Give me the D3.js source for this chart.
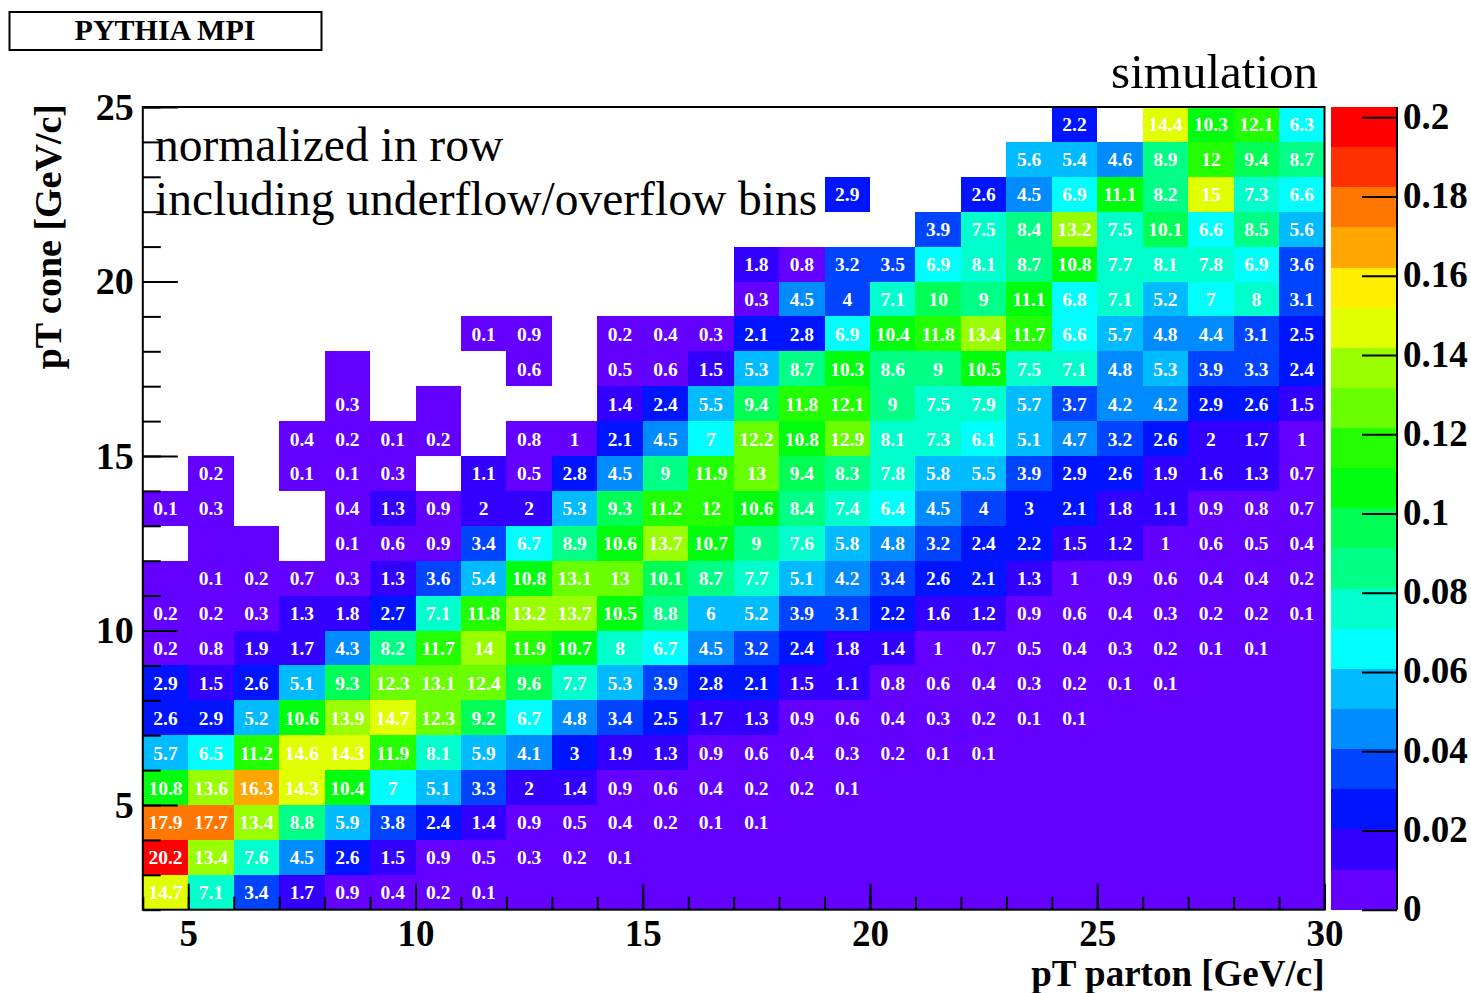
<!DOCTYPE html>
<html><head><meta charset="utf-8">
<script src="https://cdn.jsdelivr.net/npm/d3@7"></script>
<style>body{margin:0;background:#fff;} svg{display:block;}</style>
</head><body>
<script>
// ---------------- data ----------------
const xBinLow = 4, xBinHigh = 30;            // pT parton bins, 1 GeV/c wide
const yBinLow = 2, yBinHigh = 25;            // pT cone bins, 1 GeV/c wide
const xTickValues = [5, 10, 15, 20, 25, 30];
const yTickValues = [5, 10, 15, 20, 25];
const zTickValues = [0, 0.02, 0.04, 0.06, 0.08, 0.1, 0.12, 0.14, 0.16, 0.18, 0.2];
const zMax = 0.2026;
const nContours = 20;
const titleText = "PYTHIA MPI";
const noteLines = ["normalized in row", "including underflow/overflow bins"];
const tagText = "simulation";
const xTitle = "pT parton [GeV/c]";
const yTitle = "pT cone [GeV/c]";

// cell contents in percent, one row per pT-cone bin (bottom row first);
// null = empty (white) bin, 0 = filled bin with negligible content
const _ = null;
const cellPercent = [
  [14.7,7.1,3.4,1.7,0.9,0.4,0.2,0.1,0,0,0,0,0,0,0,0,0,0,0,0,0,0,0,0,0,0],
  [20.2,13.4,7.6,4.5,2.6,1.5,0.9,0.5,0.3,0.2,0.1,0,0,0,0,0,0,0,0,0,0,0,0,0,0,0],
  [17.9,17.7,13.4,8.8,5.9,3.8,2.4,1.4,0.9,0.5,0.4,0.2,0.1,0.1,0,0,0,0,0,0,0,0,0,0,0,0],
  [10.8,13.6,16.3,14.3,10.4,7,5.1,3.3,2,1.4,0.9,0.6,0.4,0.2,0.2,0.1,0,0,0,0,0,0,0,0,0,0],
  [5.7,6.5,11.2,14.6,14.3,11.9,8.1,5.9,4.1,3,1.9,1.3,0.9,0.6,0.4,0.3,0.2,0.1,0.1,0,0,0,0,0,0,0],
  [2.6,2.9,5.2,10.6,13.9,14.7,12.3,9.2,6.7,4.8,3.4,2.5,1.7,1.3,0.9,0.6,0.4,0.3,0.2,0.1,0.1,0,0,0,0,0],
  [2.9,1.5,2.6,5.1,9.3,12.3,13.1,12.4,9.6,7.7,5.3,3.9,2.8,2.1,1.5,1.1,0.8,0.6,0.4,0.3,0.2,0.1,0.1,0,0,0],
  [0.2,0.8,1.9,1.7,4.3,8.2,11.7,14,11.9,10.7,8,6.7,4.5,3.2,2.4,1.8,1.4,1,0.7,0.5,0.4,0.3,0.2,0.1,0.1,0],
  [0.2,0.2,0.3,1.3,1.8,2.7,7.1,11.8,13.2,13.7,10.5,8.8,6,5.2,3.9,3.1,2.2,1.6,1.2,0.9,0.6,0.4,0.3,0.2,0.2,0.1],
  [0,0.1,0.2,0.7,0.3,1.3,3.6,5.4,10.8,13.1,13,10.1,8.7,7.7,5.1,4.2,3.4,2.6,2.1,1.3,1,0.9,0.6,0.4,0.4,0.2],
  [_,0,0,_,0.1,0.6,0.9,3.4,6.7,8.9,10.6,13.7,10.7,9,7.6,5.8,4.8,3.2,2.4,2.2,1.5,1.2,1,0.6,0.5,0.4],
  [0.1,0.3,_,_,0.4,1.3,0.9,2,2,5.3,9.3,11.2,12,10.6,8.4,7.4,6.4,4.5,4,3,2.1,1.8,1.1,0.9,0.8,0.7],
  [_,0.2,_,0.1,0.1,0.3,_,1.1,0.5,2.8,4.5,9,11.9,13,9.4,8.3,7.8,5.8,5.5,3.9,2.9,2.6,1.9,1.6,1.3,0.7],
  [_,_,_,0.4,0.2,0.1,0.2,_,0.8,1,2.1,4.5,7,12.2,10.8,12.9,8.1,7.3,6.1,5.1,4.7,3.2,2.6,2,1.7,1],
  [_,_,_,_,0.3,_,0,_,_,_,1.4,2.4,5.5,9.4,11.8,12.1,9,7.5,7.9,5.7,3.7,4.2,4.2,2.9,2.6,1.5],
  [_,_,_,_,0,_,_,_,0.6,_,0.5,0.6,1.5,5.3,8.7,10.3,8.6,9,10.5,7.5,7.1,4.8,5.3,3.9,3.3,2.4],
  [_,_,_,_,_,_,_,0.1,0.9,_,0.2,0.4,0.3,2.1,2.8,6.9,10.4,11.8,13.4,11.7,6.6,5.7,4.8,4.4,3.1,2.5],
  [_,_,_,_,_,_,_,_,_,_,_,_,_,0.3,4.5,4,7.1,10,9,11.1,6.8,7.1,5.2,7,8,3.1],
  [_,_,_,_,_,_,_,_,_,_,_,_,_,1.8,0.8,3.2,3.5,6.9,8.1,8.7,10.8,7.7,8.1,7.8,6.9,3.6],
  [_,_,_,_,_,_,_,_,_,_,_,_,_,_,_,_,_,3.9,7.5,8.4,13.2,7.5,10.1,6.6,8.5,5.6],
  [_,_,_,_,_,_,_,_,_,_,_,_,_,_,_,2.9,_,_,2.6,4.5,6.9,11.1,8.2,15,7.3,6.6],
  [_,_,_,_,_,_,_,_,_,_,_,_,_,_,_,_,_,_,_,5.6,5.4,4.6,8.9,12,9.4,8.7],
  [_,_,_,_,_,_,_,_,_,_,_,_,_,_,_,_,_,_,_,_,2.2,_,14.4,10.3,12.1,6.3]
];

// ---------------- drawing ----------------
const W = 1471, H = 993;
const plot = {left: 142.8, right: 1324.5, top: 107, bottom: 909.7};
const bar = {left: 1331, right: 1397};
const serif = "'Liberation Serif','Times New Roman',serif";

// ROOT "pretty palette" (violet -> red), 50 colours, sampled for 20 contours
const palette50 = d3.range(50).map(i => d3.hsl(280 - (i + 1) * 5.6, 1, 0.5).formatHex());
const contourColors = d3.range(nContours).map(j => palette50[Math.floor((j + 0.99) * 50 / nContours)]);

const x = d3.scaleLinear().domain([xBinLow, xBinHigh]).range([plot.left, plot.right]);
const y = d3.scaleLinear().domain([yBinLow, yBinHigh]).range([plot.bottom, plot.top]);
const z = d3.scaleLinear().domain([0, zMax]).range([plot.bottom, plot.top]);
const color = d3.scaleQuantize().domain([0, zMax]).range(contourColors);
const fmt = v => d3.format(".1f")(v).replace(/\.0$/, "");

const svg = d3.select("body").append("svg").attr("width", W).attr("height", H)
  .style("font-family", serif);
svg.append("rect").attr("width", W).attr("height", H).attr("fill", "#fff");

const cells = cellPercent.flatMap((row, r) => row.map((v, c) => ({c, r, v})))
  .filter(d => d.v !== null);

const gCells = svg.append("g").attr("shape-rendering", "crispEdges");
gCells.selectAll("rect").data(cells).join("rect")
  .attr("x", d => x(xBinLow + d.c))
  .attr("y", d => y(yBinLow + d.r + 1))
  .attr("width", d => x(xBinLow + d.c + 1) - x(xBinLow + d.c))
  .attr("height", d => y(yBinLow + d.r) - y(yBinLow + d.r + 1))
  .attr("fill", d => color(Math.min(d.v / 100, zMax * 0.9999)));

svg.append("g").selectAll("text").data(cells.filter(d => d.v > 0)).join("text")
  .attr("x", d => x(xBinLow + d.c + 0.5))
  .attr("y", d => y(yBinLow + d.r + 0.5) + 7)
  .attr("text-anchor", "middle")
  .attr("font-size", 19.5).attr("font-weight", "bold").attr("fill", "#fff")
  .text(d => fmt(d.v));

// notes inside the plot
svg.append("g").selectAll("text").data(noteLines).join("text")
  .attr("x", 155).attr("y", (d, i) => 161 + i * 54)
  .attr("font-size", 47.5).attr("fill", "#000").text(d => d);

// frame
svg.append("rect").attr("x", plot.left).attr("y", plot.top)
  .attr("width", plot.right - plot.left).attr("height", plot.bottom - plot.top)
  .attr("fill", "none").attr("stroke", "#000").attr("stroke-width", 2);

// x axis ticks
const xMinor = d3.range(xBinLow, xBinHigh + 1);
svg.append("g").attr("transform", `translate(0,${plot.bottom})`)
  .call(d3.axisBottom(x).tickValues(xMinor).tickSize(-13).tickFormat(""))
  .call(g => g.select(".domain").remove())
  .call(g => g.selectAll("line").attr("stroke-width", 2));
const gx = svg.append("g").attr("transform", `translate(0,${plot.bottom})`)
  .call(d3.axisBottom(x).tickValues(xTickValues).tickSize(-26).tickFormat(d3.format("d")))
  .call(g => g.select(".domain").remove())
  .call(g => g.selectAll("line").attr("stroke-width", 2));
gx.selectAll("text").attr("y", 36).attr("dy", null)
  .attr("font-size", 37).attr("font-weight", "bold").attr("font-family", serif).attr("fill", "#000");

// y axis ticks
const yMinor = d3.range(yBinLow, yBinHigh + 1);
svg.append("g").attr("transform", `translate(${plot.left},0)`)
  .call(d3.axisLeft(y).tickValues(yMinor).tickSize(-18).tickFormat(""))
  .call(g => g.select(".domain").remove())
  .call(g => g.selectAll("line").attr("stroke-width", 2));
const gy = svg.append("g").attr("transform", `translate(${plot.left},0)`)
  .call(d3.axisLeft(y).tickValues(yTickValues).tickSize(-35).tickFormat(d3.format("d")))
  .call(g => g.select(".domain").remove())
  .call(g => g.selectAll("line").attr("stroke-width", 2));
gy.selectAll("text").attr("x", -9).attr("dy", null).attr("y", 12)
  .attr("font-size", 38).attr("font-weight", "bold").attr("font-family", serif).attr("fill", "#000");

// axis titles
svg.append("text").attr("x", plot.right).attr("y", 986).attr("text-anchor", "end")
  .attr("font-size", 37).attr("font-weight", "bold").text(xTitle);
svg.append("text").attr("transform", `translate(61,${plot.top - 3}) rotate(-90)`)
  .attr("text-anchor", "end").attr("font-size", 38).attr("font-weight", "bold").text(yTitle);

// colour bar
const bands = d3.range(nContours).map(j => ({lo: j * zMax / nContours, hi: (j + 1) * zMax / nContours, col: contourColors[j]}));
svg.append("g").attr("shape-rendering", "crispEdges").selectAll("rect").data(bands).join("rect")
  .attr("x", bar.left).attr("width", bar.right - bar.left)
  .attr("y", d => z(d.hi)).attr("height", d => z(d.lo) - z(d.hi))
  .attr("fill", d => d.col);
const gz = svg.append("g").attr("transform", `translate(${bar.right},0)`)
  .call(d3.axisRight(z).tickValues(zTickValues).tickSize(-35).tickFormat(d3.format("~g")))
  .call(g => g.select(".domain").attr("stroke-width", 2).attr("d", `M0,${plot.top}V${plot.bottom}`))
  .call(g => g.selectAll("line").attr("stroke-width", 2));
gz.selectAll("text").attr("x", 6).attr("dy", null).attr("y", 11)
  .attr("font-size", 37).attr("font-weight", "bold").attr("font-family", serif).attr("fill", "#000");

// tag and title box
svg.append("text").attr("x", 1318).attr("y", 88).attr("text-anchor", "end")
  .attr("font-size", 49).text(tagText);
svg.append("rect").attr("x", 9.5).attr("y", 12).attr("width", 312).attr("height", 38)
  .attr("fill", "#fff").attr("stroke", "#000").attr("stroke-width", 2);
svg.append("text").attr("x", 165).attr("y", 39.5).attr("text-anchor", "middle")
  .attr("font-size", 30).attr("font-weight", "bold").text(titleText);
</script>
</body></html>
